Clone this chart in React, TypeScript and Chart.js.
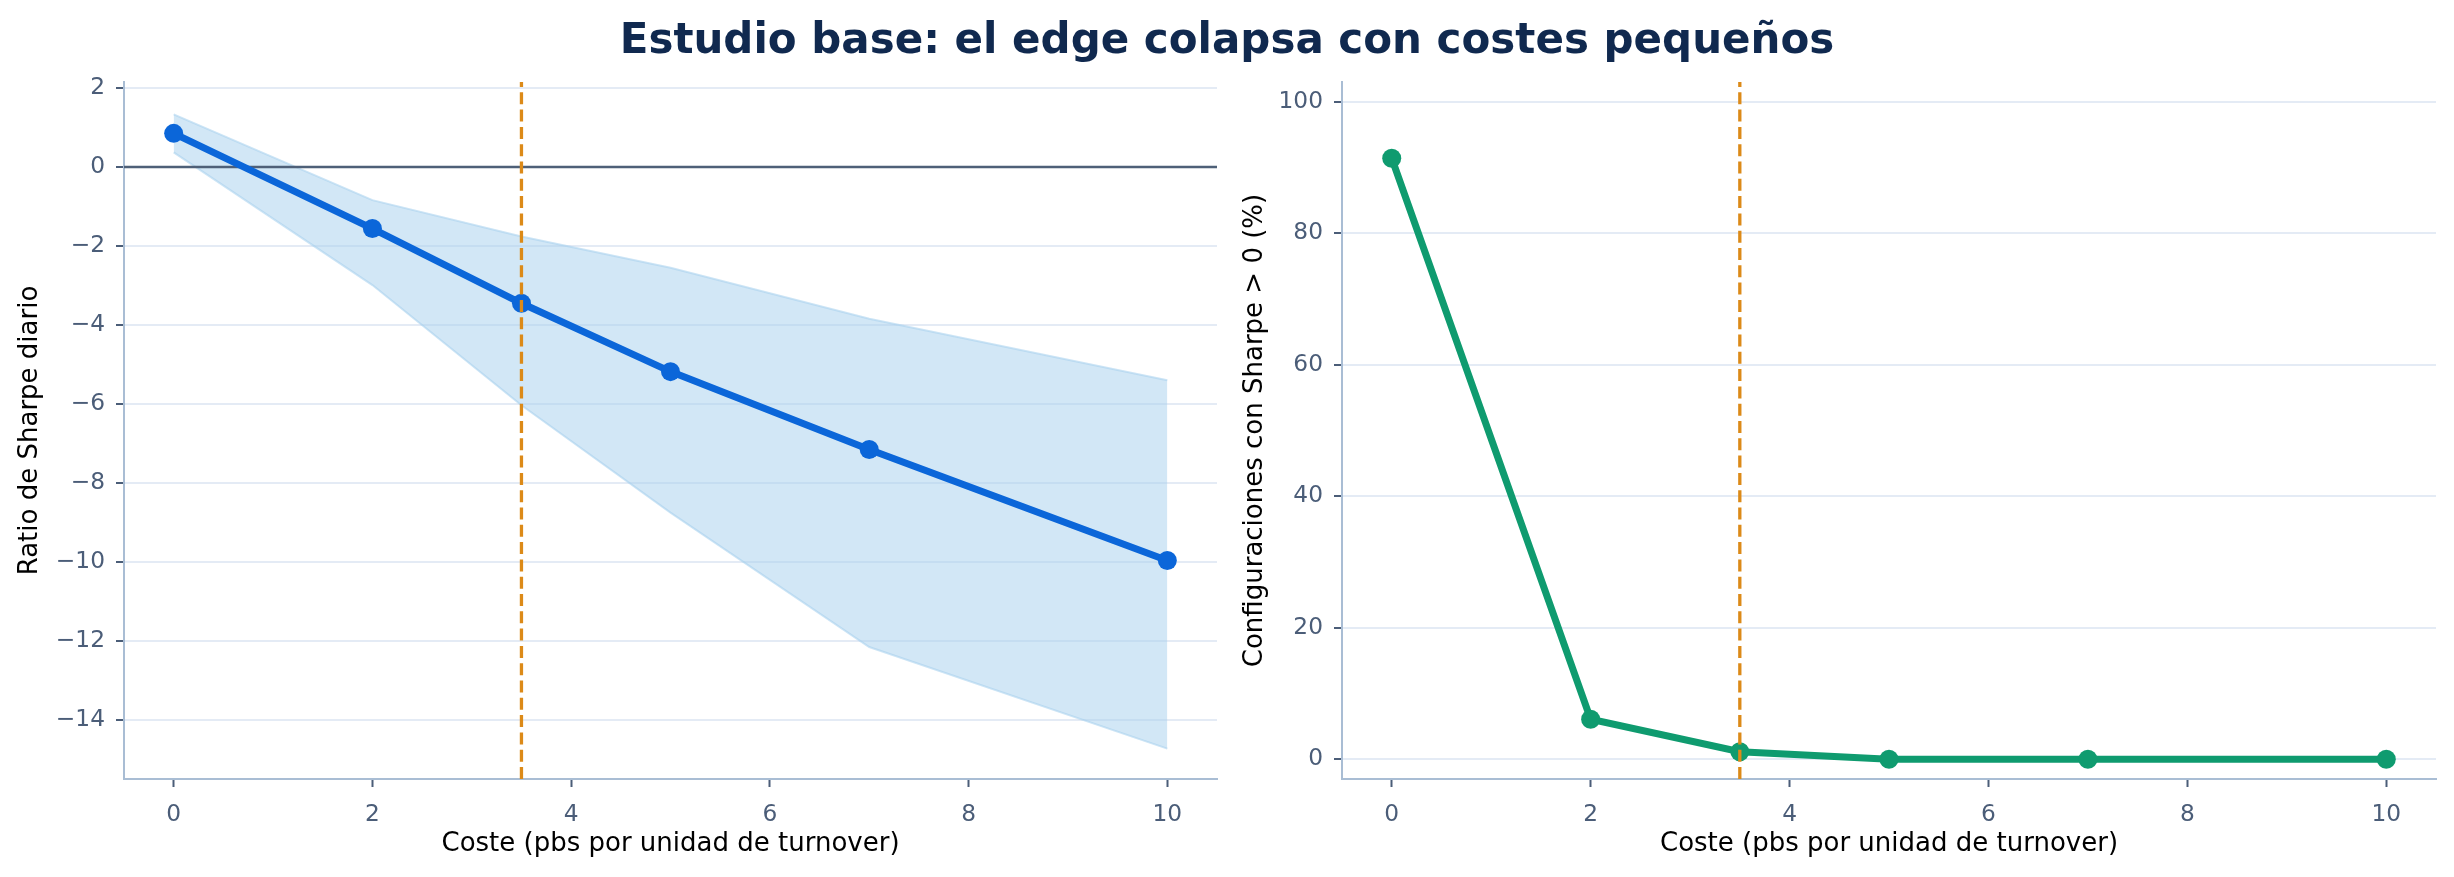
import { useEffect, useRef } from 'react';
import Chart from 'chart.js/auto';

// coste en pbs por unidad de turnover
const costs = [0, 2, 3.5, 5, 7, 10];
const sharpeMean = [0.85, -1.56, -3.45, -5.18, -7.15, -9.96];
const sharpeUpper = [1.33, -0.84, -1.76, -2.55, -3.84, -5.4];
const sharpeLower = [0.37, -2.99, -6.03, -8.75, -12.15, -14.72];
const positivePct = [91.4, 6.1, 1.15, 0, 0, 0];

const costTicks = [0, 2, 4, 6, 8, 10];
const sharpeTicks = [2, 0, -2, -4, -6, -8, -10, -12, -14];
const pctTicks = [0, 20, 40, 60, 80, 100];

const chosenCost = 3.5;
const costRange = [-0.5, 10.5];
const sharpeRange = [-15.49, 2.15];
const pctRange = [-3, 103];

const FONT = "'DejaVu Sans', sans-serif";
const TICK_COLOR = '#4b5d78';
const SPINE_COLOR = '#a9bdd4';
const GRID_COLOR = '#e4ebf5';
const REF_COLOR = '#dc8a18';

const toPoints = (ys: number[]) => costs.map((x, i) => ({ x, y: ys[i] }));
const fmt = (v: number | string) => String(v).replace('-', '\u2212');

function refLine(yRange: number[]) {
  return {
    data: [
      { x: chosenCost, y: yRange[0] },
      { x: chosenCost, y: yRange[1] }
    ],
    borderColor: REF_COLOR,
    borderWidth: 3.3,
    borderDash: [12, 5.3],
    pointRadius: 0,
    fill: false,
    order: 0
  };
}

function makeOptions(cfg: {
  yRange: number[];
  yTicks: number[];
  yTitle: string;
  yWidth: number;
  yTitlePad: number;
  padRight: number;
}) {
  return {
    animation: false as const,
    responsive: false,
    devicePixelRatio: 1,
    events: [],
    layout: { padding: { top: 82, right: cfg.padRight, left: 0, bottom: 0 } },
    plugins: { legend: { display: false }, tooltip: { enabled: false } },
    elements: { line: { tension: 0 } },
    scales: {
      x: {
        type: 'linear' as const,
        min: costRange[0],
        max: costRange[1],
        afterBuildTicks: (s: any) => {
          s.ticks = costTicks.map((value) => ({ value }));
        },
        afterFit: (s: any) => {
          s.height = 98;
        },
        grid: {
          drawOnChartArea: false,
          drawTicks: true,
          tickLength: 8,
          tickColor: TICK_COLOR,
          tickWidth: 2
        },
        border: { color: SPINE_COLOR, width: 2 },
        ticks: {
          color: TICK_COLOR,
          font: { family: FONT, size: 23.3 },
          padding: 14,
          maxRotation: 0,
          callback: fmt
        },
        title: {
          display: true,
          text: 'Coste (pbs por unidad de turnover)',
          color: '#000',
          font: { family: FONT, size: 26 },
          padding: { top: 0, bottom: 17 }
        }
      },
      y: {
        type: 'linear' as const,
        min: cfg.yRange[0],
        max: cfg.yRange[1],
        afterBuildTicks: (s: any) => {
          s.ticks = cfg.yTicks.map((value) => ({ value }));
        },
        afterFit: (s: any) => {
          s.width = cfg.yWidth;
        },
        grid: {
          color: GRID_COLOR,
          lineWidth: 2,
          tickLength: 8,
          tickColor: TICK_COLOR,
          tickWidth: 2
        },
        border: { color: SPINE_COLOR, width: 2 },
        ticks: {
          color: TICK_COLOR,
          font: { family: FONT, size: 23.3 },
          padding: 11,
          callback: fmt
        },
        title: {
          display: true,
          text: cfg.yTitle,
          color: '#000',
          font: { family: FONT, size: 26 },
          padding: { top: cfg.yTitlePad, bottom: 0 }
        }
      }
    }
  };
}

function SharpeChart() {
  const ref = useRef<HTMLCanvasElement>(null);
  useEffect(() => {
    if (!ref.current) return;
    const chart = new Chart(ref.current, {
      type: 'line',
      data: {
        datasets: [
          refLine(sharpeRange),
          {
            data: toPoints(sharpeMean),
            borderColor: '#0b66d9',
            backgroundColor: '#0b66d9',
            borderWidth: 7,
            pointRadius: 9.5,
            pointBorderWidth: 0,
            fill: false,
            order: 1
          },
          {
            data: [
              { x: costRange[0], y: 0 },
              { x: costRange[1], y: 0 }
            ],
            borderColor: '#4e6078',
            borderWidth: 2.5,
            pointRadius: 0,
            fill: false,
            order: 2
          },
          {
            data: toPoints(sharpeUpper),
            borderColor: 'rgba(170, 210, 238, 0.6)',
            backgroundColor: 'rgba(165, 207, 237, 0.5)',
            borderWidth: 2,
            pointRadius: 0,
            fill: '+1',
            order: 3
          },
          {
            data: toPoints(sharpeLower),
            borderColor: 'rgba(170, 210, 238, 0.6)',
            borderWidth: 2,
            pointRadius: 0,
            fill: false,
            order: 4
          }
        ]
      },
      options: makeOptions({
        yRange: sharpeRange,
        yTicks: sharpeTicks,
        yTitle: 'Ratio de Sharpe diario',
        yWidth: 124,
        yTitlePad: 15,
        padRight: 10
      }) as any
    });
    return () => chart.destroy();
  }, []);
  return <canvas ref={ref} width={1227} height={877} style={{ width: 1227, height: 877 }} />;
}

function PositiveChart() {
  const ref = useRef<HTMLCanvasElement>(null);
  useEffect(() => {
    if (!ref.current) return;
    const chart = new Chart(ref.current, {
      type: 'line',
      data: {
        datasets: [
          refLine(pctRange),
          {
            data: toPoints(positivePct),
            borderColor: '#0f9b6f',
            backgroundColor: '#0f9b6f',
            borderWidth: 7,
            pointRadius: 9.5,
            pointBorderWidth: 0,
            fill: false,
            order: 1
          }
        ]
      },
      options: makeOptions({
        yRange: pctRange,
        yTicks: pctTicks,
        yTitle: 'Configuraciones con Sharpe > 0 (%)',
        yWidth: 115,
        yTitlePad: 13,
        padRight: 18
      }) as any
    });
    return () => chart.destroy();
  }, []);
  return <canvas ref={ref} width={1227} height={877} style={{ width: 1227, height: 877 }} />;
}

export default function App() {
  return (
    <div
      style={{
        position: 'absolute',
        left: 0,
        top: 0,
        width: 2454,
        height: 877,
        background: '#fff',
        overflow: 'hidden'
      }}
    >
      <div style={{ position: 'absolute', left: 0, top: 0 }}>
        <SharpeChart />
      </div>
      <div style={{ position: 'absolute', left: 1227, top: 0 }}>
        <PositiveChart />
      </div>
      <div
        style={{
          position: 'absolute',
          left: 0,
          top: 17.5,
          width: 2454,
          textAlign: 'center',
          fontFamily: FONT,
          fontWeight: 'bold',
          fontSize: 42,
          lineHeight: '42px',
          color: '#10294f',
          whiteSpace: 'nowrap'
        }}
      >
        Estudio base: el edge colapsa con costes pequeños
      </div>
    </div>
  );
}
